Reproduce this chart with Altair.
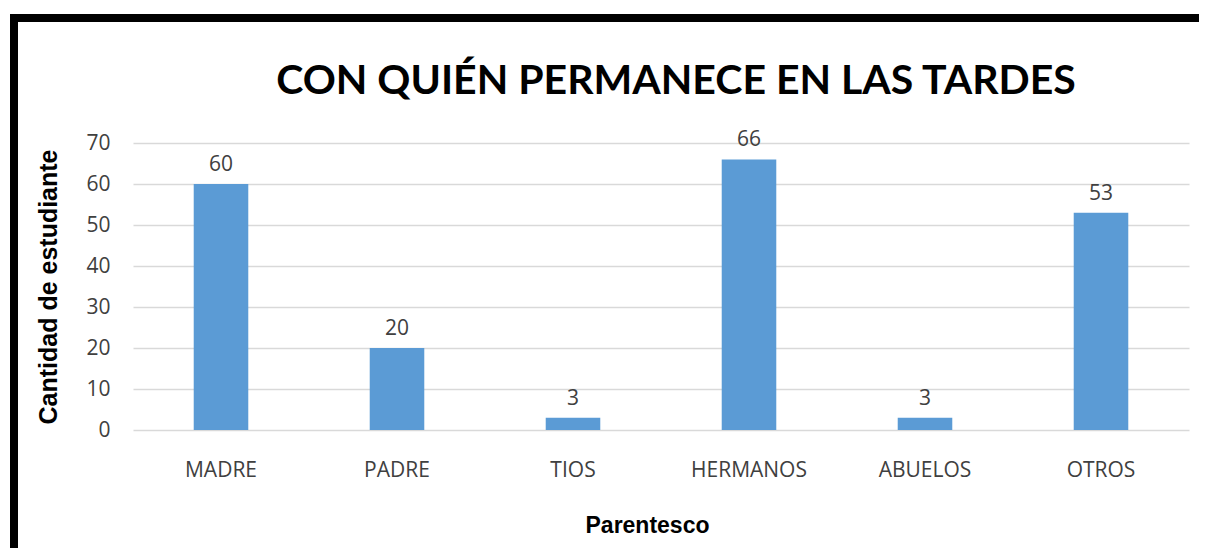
import altair as alt
import pandas as pd

categories = ["MADRE", "PADRE", "TIOS", "HERMANOS", "ABUELOS", "OTROS"]
values = [60, 20, 3, 66, 3, 53]
y_ticks = [0, 10, 20, 30, 40, 50, 60, 70]

df = pd.DataFrame({"Parentesco": categories, "Cantidad": values})

W, H = 1056, 287
PAD = {"left": 125, "top": 135, "right": 10, "bottom": 118}

x_enc = alt.X(
    "Parentesco:N",
    sort=categories,
    scale=alt.Scale(paddingInner=0.69, paddingOuter=0.345),
    axis=alt.Axis(
        title="Parentesco",
        titleFont="Liberation Sans", titleFontSize=23, titleFontWeight="bold",
        titleColor="#000000", titleX=514, titleY=95, titleBaseline="middle",
        titleAnchor="start", titleAlign="center",
        labelFont="Open Sans", labelFontSize=21, labelColor="#404040",
        labelAngle=0, labelPadding=29, ticks=False, domain=False, grid=False,
    ),
)
y_enc = alt.Y(
    "Cantidad:Q",
    scale=alt.Scale(domain=[0, 70], nice=False),
    axis=alt.Axis(
        title="Cantidad  de  estudiante",
        titleFont="Liberation Sans", titleFontSize=25, titleFontWeight="bold",
        titleColor="#000000", titleAngle=-90, titleX=-85, titleY=143.5,
        titleBaseline="middle", titleAlign="center",
        values=y_ticks, labelFont="Open Sans", labelFontSize=21,
        labelColor="#404040", labelPadding=23, ticks=False, domain=False,
        grid=True, gridColor="#d9d9d9", gridWidth=1.5,
    ),
)

bars = alt.Chart(df).mark_bar(color="#5B9BD5").encode(x=x_enc, y=y_enc)
labels = alt.Chart(df).mark_text(
    font="Open Sans", fontSize=21, color="#404040", baseline="alphabetic", dy=-13
).encode(x=alt.X("Parentesco:N", sort=categories), y="Cantidad:Q", text="Cantidad:Q")

border_left = alt.Chart(df).mark_rule(color="#000000", strokeWidth=8).encode(
    x=alt.value(-119), y=alt.value(-129), y2=alt.value(H + PAD["bottom"])
)
border_top = alt.Chart(df).mark_rule(color="#000000", strokeWidth=8).encode(
    y=alt.value(-125), x=alt.value(-123), x2=alt.value(W + PAD["right"])
)

chart = (
    alt.layer(bars, labels, border_left, border_top)
    .properties(
        width=W, height=H,
        autosize=alt.AutoSizeParams(type="none"),
        padding=PAD,
        background="#ffffff",
        title=alt.TitleParams(
            text="CON QUIÉN PERMANECE EN LAS TARDES",
            font="Lato", fontSize=41, fontWeight="bold", color="#000000",
            anchor="middle", dx=15, offset=-125, baseline="alphabetic",
        ),
    )
    .configure_view(stroke=None)
)

chart.save("out.html", embed_options={"renderer": "svg", "actions": False})
